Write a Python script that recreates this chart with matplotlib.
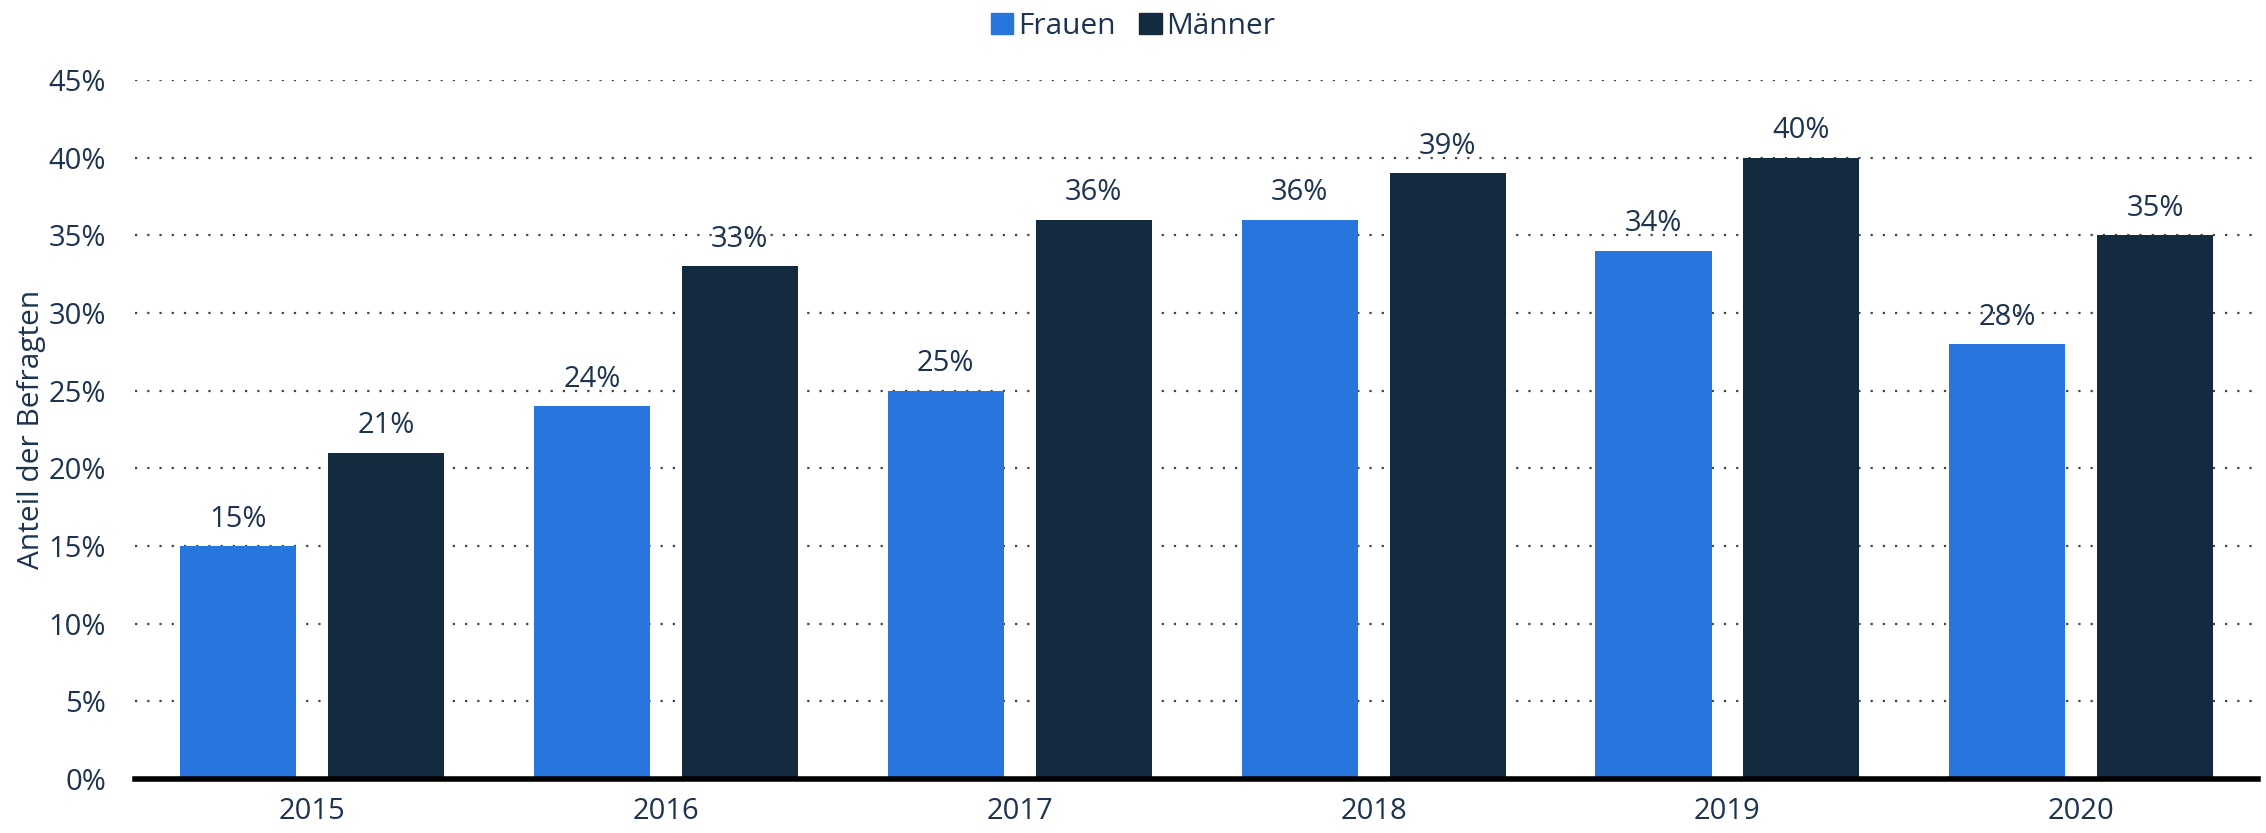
import matplotlib
matplotlib.use("Agg")
import matplotlib.pyplot as plt
from matplotlib.patches import Patch
import numpy as np

years = ["2015", "2016", "2017", "2018", "2019", "2020"]
frauen = [15, 24, 25, 36, 34, 28]
maenner = [21, 33, 36, 39, 40, 35]
yticks = [0, 5, 10, 15, 20, 25, 30, 35, 40, 45]

c_f = "#2876dd"
c_m = "#142a3f"
txt = "#1d3350"

plt.rcParams['font.family'] = ['Open Sans', 'DejaVu Sans']

fig = plt.figure(figsize=(22.66, 8.33), dpi=100)
ax = fig.add_axes([0.0596, 0.0648, 0.937, 0.8392])

x = np.arange(len(years))
w = 0.328
off = 0.209
b1 = ax.bar(x - off, frauen, w, color=c_f, zorder=3)
b2 = ax.bar(x + off, maenner, w, color=c_m, zorder=3)

for bars, vals in ((b1, frauen), (b2, maenner)):
    for r, v in zip(bars, vals):
        ax.annotate(f"{v}%", (r.get_x() + r.get_width() / 2, v),
                    xytext=(0, 9), textcoords="offset points",
                    ha="center", va="bottom", fontsize=21, color=txt)

ax.set_xlim(-0.5, len(years) - 0.5)
ax.set_ylim(0, 45)
ax.set_yticks(yticks)
ax.set_yticklabels([f"{t}%" for t in yticks])
ax.set_xticks(x)
ax.set_xticklabels(years)
ax.tick_params(axis="both", length=0, labelsize=21, labelcolor=txt)
ax.tick_params(axis="y", pad=21)
ax.tick_params(axis="x", pad=13)

for t in yticks[1:]:
    ax.axhline(t, color="#444444", linestyle=(0, (1, 4.5)), linewidth=1.6, zorder=1)

for s in ["top", "right", "left"]:
    ax.spines[s].set_visible(False)
ax.spines["bottom"].set_linewidth(4)
ax.spines["bottom"].set_color("black")
ax.spines["bottom"].set_zorder(5)

ax.set_ylabel("Anteil der Befragten", fontsize=21.5, color=txt, labelpad=2)

handles = [Patch(color=c_f, label="Frauen"), Patch(color=c_m, label="Männer")]
fig.legend(handles=handles, loc="upper center", bbox_to_anchor=(0.5, 1.018), ncol=2,
           frameon=False, fontsize=21.5, handlelength=0.75, handleheight=0.75,
           handletextpad=0.15, columnspacing=0.8, labelcolor=txt)

fig.savefig("out.png", dpi=100)
